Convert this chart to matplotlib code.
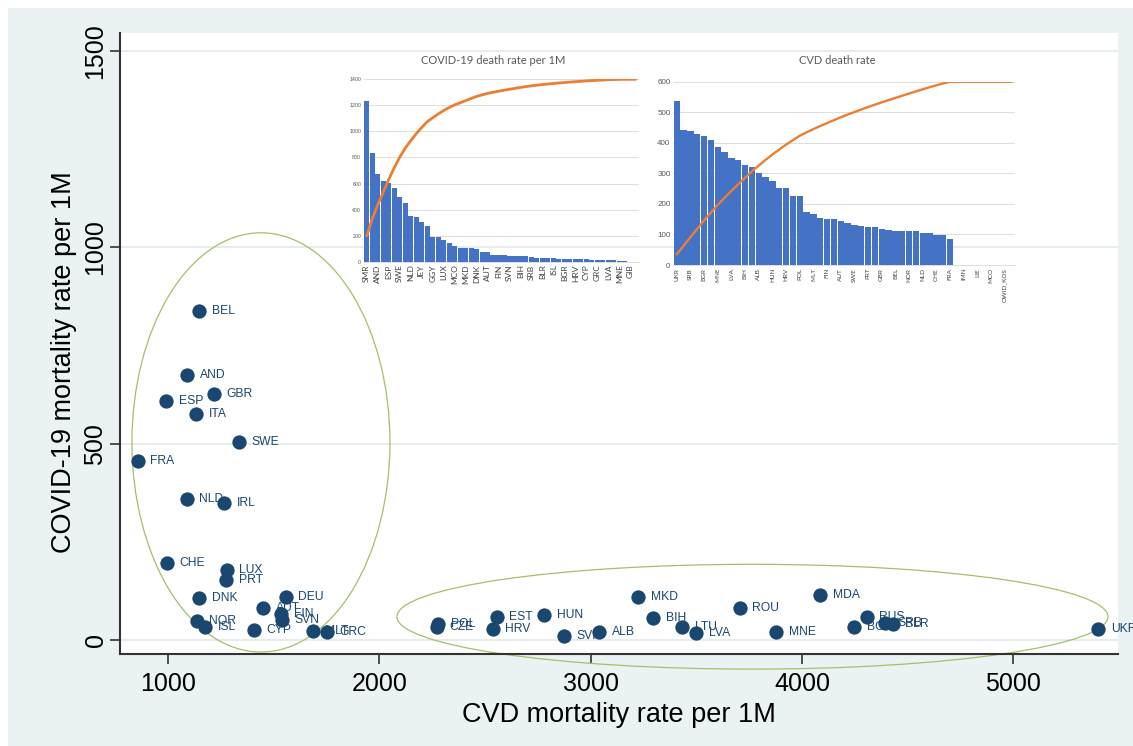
import matplotlib
matplotlib.use("Agg")
from matplotlib import pyplot as plt
from matplotlib.patches import Ellipse, Rectangle
import numpy as np

plt.rcParams['font.family'] = ['Liberation Sans', 'DejaVu Sans']

# ---- main scatter: CVD vs COVID-19 mortality per 1M ----
countries = ["BEL", "AND", "GBR", "ESP", "ITA", "SWE", "FRA", "NLD", "IRL", "CHE",
             "LUX", "PRT", "DNK", "DEU", "AUT", "FIN", "SVN", "NOR", "ISL", "CYP",
             "MLT", "GRC", "POL", "CZE", "EST", "HRV", "HUN", "SVK", "ALB", "MKD",
             "BIH", "LTU", "LVA", "ROU", "MNE", "MDA", "RUS", "BGR", "SRB", "BLR", "UKR"]
cvd_rate = [1147, 1090, 1218, 991, 1133, 1336, 858, 1090, 1265, 995,
            1279, 1275, 1147, 1558, 1450, 1535, 1540, 1137, 1175, 1407,
            1686, 1753, 2278, 2273, 2557, 2538, 2780, 2874, 3040, 3225,
            3296, 3433, 3499, 3707, 3878, 4086, 4308, 4247, 4394, 4431, 5402]
covid_rate = [838, 675, 627, 609, 576, 504, 456, 359, 349, 196,
              178, 153, 107, 110, 82, 66, 51, 48, 33, 25,
              23, 20, 41, 33, 59, 28, 64, 10, 20, 110,
              56, 33, 18, 82, 20, 115, 59, 33, 43, 41, 28]

# ---- inset 1: COVID-19 death rate per 1M (pareto) ----
covid_names = ["SMR", "BEL", "AND", "GBR", "ESP", "ITA", "SWE", "FRA", "NLD", "IRL",
               "JEY", "IMN", "GGY", "CHE", "LUX", "PRT", "MCO", "MDA", "MKD", "DEU",
               "DNK", "ROU", "AUT", "HUN", "FIN", "EST", "SVN", "RUS", "BIH", "NOR",
               "SRB", "POL", "BLR", "CZE", "ISL", "LTU", "BGR", "UKR", "HRV", "MLT",
               "CYP", "ALB", "GRC", "SVK", "LVA", "LIE", "MNE", "FRO", "GIB", "VAT"]
covid_deaths = [1235, 832, 670, 619, 606, 568, 499, 448, 351, 340,
                302, 276, 187, 187, 166, 146, 123, 105, 104, 103,
                100, 74, 72, 53, 52, 48, 46, 45, 44, 40,
                36, 32, 30, 27, 25, 24, 23, 21, 20, 18,
                17, 16, 15, 13, 12, 11, 8, 4, 0, 0]

# ---- inset 2: CVD death rate (pareto) ----
cvd_names = ["UKR", "BLR", "SRB", "RUS", "BGR", "MDA", "MNE", "ROU", "LVA", "LTU",
             "BIH", "MKD", "ALB", "SVK", "HUN", "EST", "HRV", "CZE", "POL", "GRC",
             "MLT", "DEU", "FIN", "SVN", "AUT", "CYP", "SWE", "LUX", "PRT", "IRL",
             "GBR", "ISL", "BEL", "DNK", "NOR", "ITA", "NLD", "AND", "CHE", "ESP",
             "FRA", "GIB", "IMN", "JEY", "LIE", "GGY", "MCO", "SMR", "OWID_KOS", "VAT"]
cvd_deaths = [538, 442, 440, 429, 423, 409, 387, 369, 349, 344,
              327, 322, 302, 287, 276, 253, 253, 226, 226, 175,
              167, 155, 151, 151, 144, 139, 131, 128, 125, 123,
              117, 115, 112, 112, 112, 110, 106, 106, 99, 98,
              85, np.nan, np.nan, np.nan, np.nan, np.nan, np.nan, np.nan, np.nan, np.nan]

W, H = 1133, 746
navy = "#1a476f"
bg = "#EAF2F3"

fig = plt.figure(figsize=(W / 100, H / 100), dpi=100, facecolor="white")
fig.patches.append(Rectangle((8 / W, 0), 1, 1 - 8 / H, transform=fig.transFigure,
                             facecolor=bg, edgecolor="none", zorder=-10))


def px_box(x0, y0, x1, y1):
    return [x0 / W, 1 - y1 / H, (x1 - x0) / W, (y1 - y0) / H]


ax = fig.add_axes(px_box(120, 33, 1118, 654))
ax.set_facecolor("white")
ax.set_xlim(773, 5496)
ax.set_ylim(-36, 1546)
for y in [0, 500, 1000, 1500]:
    ax.axhline(y, color="#E4ECEE", lw=1.3, zorder=0)

ax.scatter(cvd_rate, covid_rate, s=106, color=navy, zorder=3, linewidths=0)
for name, x, y in zip(countries, cvd_rate, covid_rate):
    ax.annotate(name, (x, y), xytext=(9, 0), textcoords="offset points",
                va="center", ha="left", fontsize=8.7, color=navy, zorder=4)

ax.add_patch(Ellipse((1440, 503), 1221, 1068, fill=False, edgecolor="#A3C06A",
                     lw=0.9, clip_on=False, zorder=2))
ax.add_patch(Ellipse((3766, 59), 3365, 267, fill=False, edgecolor="#A3C06A",
                     lw=0.9, clip_on=False, zorder=2))

ax.set_xticks([1000, 2000, 3000, 4000, 5000])
ax.set_yticks([0, 500, 1000, 1500])
ax.tick_params(axis="x", labelsize=18, length=7, width=1.2, pad=6, color="#333333")
ax.tick_params(axis="y", labelsize=18, length=7, width=1.2, pad=2, color="#333333")
plt.setp(ax.get_yticklabels(), rotation=90, va="center")
for s in ["top", "right"]:
    ax.spines[s].set_visible(False)
for s in ["left", "bottom"]:
    ax.spines[s].set_color("#333333")
    ax.spines[s].set_linewidth(1.5)
ax.set_xlabel("CVD mortality rate per 1M", fontsize=19.5, labelpad=4)
ax.set_ylabel("COVID-19 mortality rate per 1M", fontsize=19.5)
ax.yaxis.set_label_coords(-0.043, 0.47)


def pareto(box, names, vals, ymax, ystep, tick_fs, cat_fs, lw):
    vals = np.array(vals, dtype=float)
    a = fig.add_axes(px_box(*box))
    a.set_facecolor("none")
    xs = np.arange(len(names))
    a.bar(xs, vals, width=0.92, color="#4472C4", zorder=2)
    a.set_xlim(-0.5, len(names) - 0.5)
    a.set_ylim(0, ymax)
    a.set_yticks(np.arange(0, ymax + 1, ystep))
    a.grid(axis="y", color="#D9D9D9", lw=0.6, zorder=0)
    a.set_xticks(xs[::2])
    a.set_xticklabels(names[::2], rotation=90, fontsize=cat_fs, color="#404040",
                      family=["Lato", "DejaVu Sans"])
    a.tick_params(axis="both", length=0, pad=2)
    a.tick_params(axis="y", labelsize=tick_fs, labelcolor="#595959")
    for s in ["top", "right", "left"]:
        a.spines[s].set_visible(False)
    a.spines["bottom"].set_color("#D9D9D9")
    a.spines["bottom"].set_linewidth(0.6)
    t = a.twinx()
    t.plot(xs, np.nancumsum(vals) / np.nansum(vals), color="#ED7D31", lw=lw,
           solid_capstyle="round", zorder=3)
    t.set_ylim(0, 1)
    t.axis("off")
    return a


pareto((364, 79.3, 638.5, 261.7), covid_names, covid_deaths, 1400, 200, 3.8, 6.0, 2.0)
pareto((673.3, 81.7, 1015, 265), cvd_names, cvd_deaths, 600, 100, 5.8, 4.6, 1.7)

fig.text(493 / W, 1 - 60.7 / H, "COVID-19 death rate per 1M", ha="center", va="center",
         fontsize=8, color="#595959", family=["Lato", "DejaVu Sans"])
fig.text(837 / W, 1 - 60.7 / H, "CVD death rate", ha="center", va="center",
         fontsize=8, color="#595959", family=["Lato", "DejaVu Sans"])

fig.savefig("out.png", dpi=100, facecolor="white")
